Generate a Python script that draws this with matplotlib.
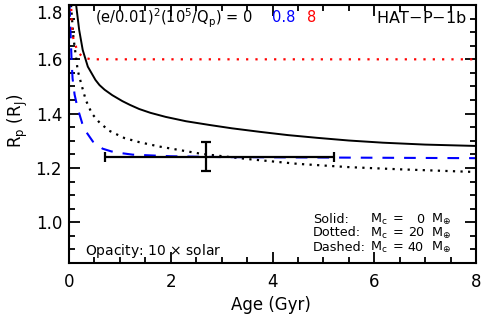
import numpy as np
import matplotlib
matplotlib.use("Agg")
from matplotlib import pyplot as plt
from matplotlib.ticker import MultipleLocator, FormatStrFormatter

plt.rcParams['font.family'] = ['DejaVu Sans']
plt.rcParams['mathtext.fontset'] = 'dejavusans'

# Mc = 0, no tidal heating (solid)
age_solid = [0.13, 0.14, 0.20, 0.27, 0.37, 0.52, 0.6, 0.7, 0.85, 1.05, 1.2, 1.38, 1.6, 1.9, 2.3, 2.77,
             3.2, 3.75, 4.3, 4.87, 5.5, 6.17, 7.0, 8.0]
r_solid = [1.82, 1.80, 1.708, 1.634, 1.573, 1.524, 1.505, 1.488, 1.468, 1.446, 1.432, 1.417, 1.403, 1.388,
           1.372, 1.358, 1.346, 1.333, 1.321, 1.311, 1.301, 1.293, 1.286, 1.281]

# Mc = 20 (dotted)
age_dot = [0.04, 0.085, 0.14, 0.17, 0.24, 0.33, 0.45, 0.6, 0.79, 1.09, 1.38, 1.77, 2.2, 2.6, 3.5, 4.5, 5.5, 6.5, 8.0]
r_dot = [1.80, 1.683, 1.605, 1.56, 1.51, 1.45, 1.40, 1.367, 1.337, 1.31, 1.295, 1.279, 1.265, 1.252, 1.233,
         1.215, 1.203, 1.195, 1.185]

# Mc = 40 with heating 0.8 (blue dashed)
age_dash = [0.01, 0.03, 0.05, 0.07, 0.11, 0.17, 0.26, 0.33, 0.47, 0.66, 0.83, 1.05, 1.25, 2.0, 3.0, 8.0]
r_dash = [1.80, 1.70, 1.60, 1.53, 1.47, 1.42, 1.364, 1.335, 1.297, 1.271, 1.261, 1.254, 1.249, 1.243, 1.240, 1.236]

# heating 8 (red dotted)
age_red = [0.04, 0.05, 0.07, 0.1, 0.18, 0.28, 0.43, 8.0]
r_red = [1.82, 1.75, 1.69, 1.665, 1.625, 1.607, 1.600, 1.600]

# HAT-P-1b measurement
obs_age = 2.7
obs_age_lo, obs_age_hi = 2.0, 2.5
obs_r = 1.242
obs_r_err = 0.053

fig = plt.figure(figsize=(4.85, 3.23), dpi=100)
ax = fig.add_axes([69/485, 60/323, 407/485, 258/323])

ax.plot(age_solid, r_solid, color='black', lw=1.4)
ax.plot(age_dot, r_dot, color='black', lw=1.6, ls=(0, (1, 2.4)))
ax.plot(age_dash, r_dash, color='blue', lw=1.5, ls=(0, (5.6, 4.8)))
ax.plot(age_red, r_red, color='red', lw=1.6, ls=(0, (1, 3.2)))

ax.errorbar([obs_age], [obs_r], xerr=[[obs_age_lo], [obs_age_hi]], yerr=[[obs_r_err], [obs_r_err]],
            fmt='none', ecolor='black', elinewidth=1.6, capsize=3.6, capthick=1.6)

ax.set_xlim(0, 8)
ax.set_ylim(0.85, 1.8)
ax.xaxis.set_major_locator(MultipleLocator(2))
ax.xaxis.set_minor_locator(MultipleLocator(0.5))
ax.yaxis.set_major_locator(MultipleLocator(0.2))
ax.yaxis.set_minor_locator(MultipleLocator(0.05))
ax.yaxis.set_major_formatter(FormatStrFormatter('%.1f'))
ax.tick_params(which='both', direction='in', top=True, right=True, width=1.3, labelsize=12)
ax.tick_params(which='major', length=8)
ax.tick_params(axis='x', which='both', pad=7)
ax.tick_params(axis='y', which='both', pad=5)
ax.tick_params(which='minor', length=4)
for s in ax.spines.values():
    s.set_linewidth(1.5)

fig.canvas.draw()
for lab in ax.get_yticklabels():
    if lab.get_text() == '1.8':
        lab.set_verticalalignment('top')

fig.text(271/485, 1 - 305/323, 'Age (Gyr)', fontsize=12, ha='center', va='center')
fig.text(18/485, 1 - 121/323, r'R$_\mathregular{p}$ (R$_\mathregular{J}$)', fontsize=12,
         ha='center', va='center', rotation=90)

tsize = 10.5
ax.text(0.064, 0.95, r'(e/0.01)$^\mathregular{2}$(10$^\mathregular{5}$/Q$_\mathregular{p}$) = 0',
        transform=ax.transAxes, fontsize=tsize, va='center')
ax.text((272 - 69)/407, 0.95, '0.8', color='blue', transform=ax.transAxes, fontsize=tsize, va='center')
ax.text((307 - 69)/407, 0.95, '8', color='red', transform=ax.transAxes, fontsize=tsize, va='center')
ax.text((467 - 69)/407, 0.95, 'HAT$-$P$-$1b', transform=ax.transAxes, fontsize=11.5, va='center', ha='right')

ax.text((85 - 69)/407, 0.047, 'Opacity: 10 $\\times$ solar', transform=ax.transAxes, fontsize=10, va='center')

leg_y = [0.1705, 0.1163, 0.062]
leg_lab = ['Solid:', 'Dotted:', 'Dashed:']
leg_m = ['0', '20', '40']
lsize = 9.2
for y, lab, m in zip(leg_y, leg_lab, leg_m):
    ax.text(0.6, y, lab, transform=ax.transAxes, fontsize=lsize, va='center')
    ax.text((370 - 69)/407, y, r'M$_\mathregular{c}$', transform=ax.transAxes, fontsize=lsize, va='center')
    ax.text((398 - 69)/407, y, '=', transform=ax.transAxes, fontsize=lsize, va='center', ha='center')
    ax.text((424 - 69)/407, y, m, transform=ax.transAxes, fontsize=lsize, va='center', ha='right')
    ax.text(0.889, y, r'M$_{\oplus}$', transform=ax.transAxes, fontsize=lsize, va='center')

fig.savefig('out.png', dpi=100)
